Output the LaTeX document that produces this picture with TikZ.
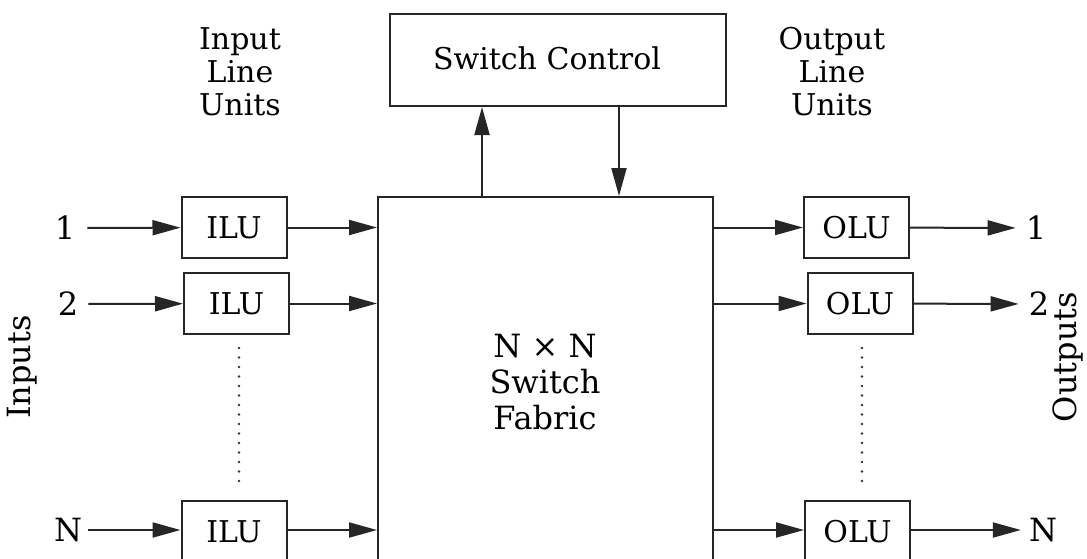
\documentclass[tikz,border=0pt]{standalone}
\usepackage{fontspec}
\setmainfont{DejaVu Serif}
\usetikzlibrary{arrows.meta}
\begin{document}
\begin{tikzpicture}[x=1pt,y=-1pt,
  lbl/.style={font=\fontsize{32}{34}\selectfont, inner sep=0pt, align=center},
  unitbox/.style={draw=black!85, line width=2pt, minimum width=105pt, minimum height=61pt, inner sep=0pt, font=\fontsize{30}{34}\selectfont},
  arr/.style={draw=black!85, line width=2pt, -{Triangle[length=28pt,width=15pt]}, color=black!85},
  dotline/.style={draw=black!80, line width=2.6pt, dash pattern=on 0pt off 9.5pt, line cap=round}]
\useasboundingbox (0,0) rectangle (1087,558);
\clip (0,0) rectangle (1087,558);
\fill[white] (0,0) rectangle (1087,558);

% switch control
\node[draw=black!85, line width=2pt, minimum width=336pt, minimum height=92pt, inner sep=0pt] (ctl) at (558,60) {};
\node[lbl, font=\fontsize{30}{34}\selectfont] (ctltext) at (547,58) {Switch Control};

% fabric
\node[draw=black!85, line width=2pt, minimum width=335pt, minimum height=380pt, inner sep=0pt] (fab) at (545.5,387) {};
\node[lbl, font=\fontsize{32}{36}\selectfont] (fabtext) at (545,382) {N × N\\Switch\\Fabric};

% titles
\node[lbl, font=\fontsize{30}{33}\selectfont] (intitle) at (240,72) {Input\\Line\\Units};
\node[lbl, font=\fontsize{30}{33}\selectfont] (outtitle) at (832,72) {Output\\Line\\Units};

% ILUs
\node[unitbox] (ilu1) at (234,227.5) {ILU};
\node[unitbox] (ilu2) at (236.5,303.5) {ILU};
\node[unitbox] (iluN) at (234,531.5) {ILU};
% OLUs
\node[unitbox] (olu1) at (856.5,227.5) {OLU};
\node[unitbox] (olu2) at (860,303.5) {OLU};
\node[unitbox] (oluN) at (857.5,531.5) {OLU};

% input labels
\node[lbl] (in1) at (65,228) {1};
\node[lbl] (in2) at (68,304) {2};
\node[lbl] (inN) at (68,530) {N};
\node[lbl] (out1) at (1036,228) {1};
\node[lbl] (out2) at (1039,304) {2};
\node[lbl] (outN) at (1043,530) {N};

\node[lbl, rotate=90] (inputs) at (22,367) {Inputs};
\node[lbl, rotate=90] (outputs) at (1068,357) {Outputs};

% input arrows
\draw[arr, shorten <=12pt] (in1) -- (ilu1);
\draw[arr, shorten <=10pt] (in2) -- (ilu2);
\draw[arr, shorten <=6pt] (inN) -- (iluN.west |- inN);
\draw[arr] (ilu1.east) -- (ilu1.east -| fab.west);
\draw[arr] (ilu2.east) -- (ilu2.east -| fab.west);
\draw[arr] (iluN.east |- inN) -- (inN -| fab.west);

% output arrows
\draw[arr] (olu1.west -| fab.east) -- (olu1.west);
\draw[arr] (olu2.west -| fab.east) -- (olu2.west);
\draw[arr] (outN -| fab.east) -- (outN -| oluN.west);
\draw[arr, shorten >=10pt] (olu1) -- (out1);
\draw[arr, shorten >=10pt] (olu2) -- (out2);
\draw[arr, shorten >=8pt] (oluN.east |- outN) -- (outN);

% control arrows
\coordinate (cu) at (482,0);
\coordinate (cd) at (619,0);
\draw[arr] (cu |- fab.north) -- (cu |- ctl.south);
\draw[arr] (cd |- ctl.south) -- (cd |- fab.north);

% dots
\coordinate (d1) at (239,348);
\coordinate (d2) at (239,486);
\coordinate (d3) at (862,348);
\coordinate (d4) at (862,486);
\draw[dotline] (d1) -- (d2);
\draw[dotline] (d3) -- (d4);
\end{tikzpicture}
\end{document}
